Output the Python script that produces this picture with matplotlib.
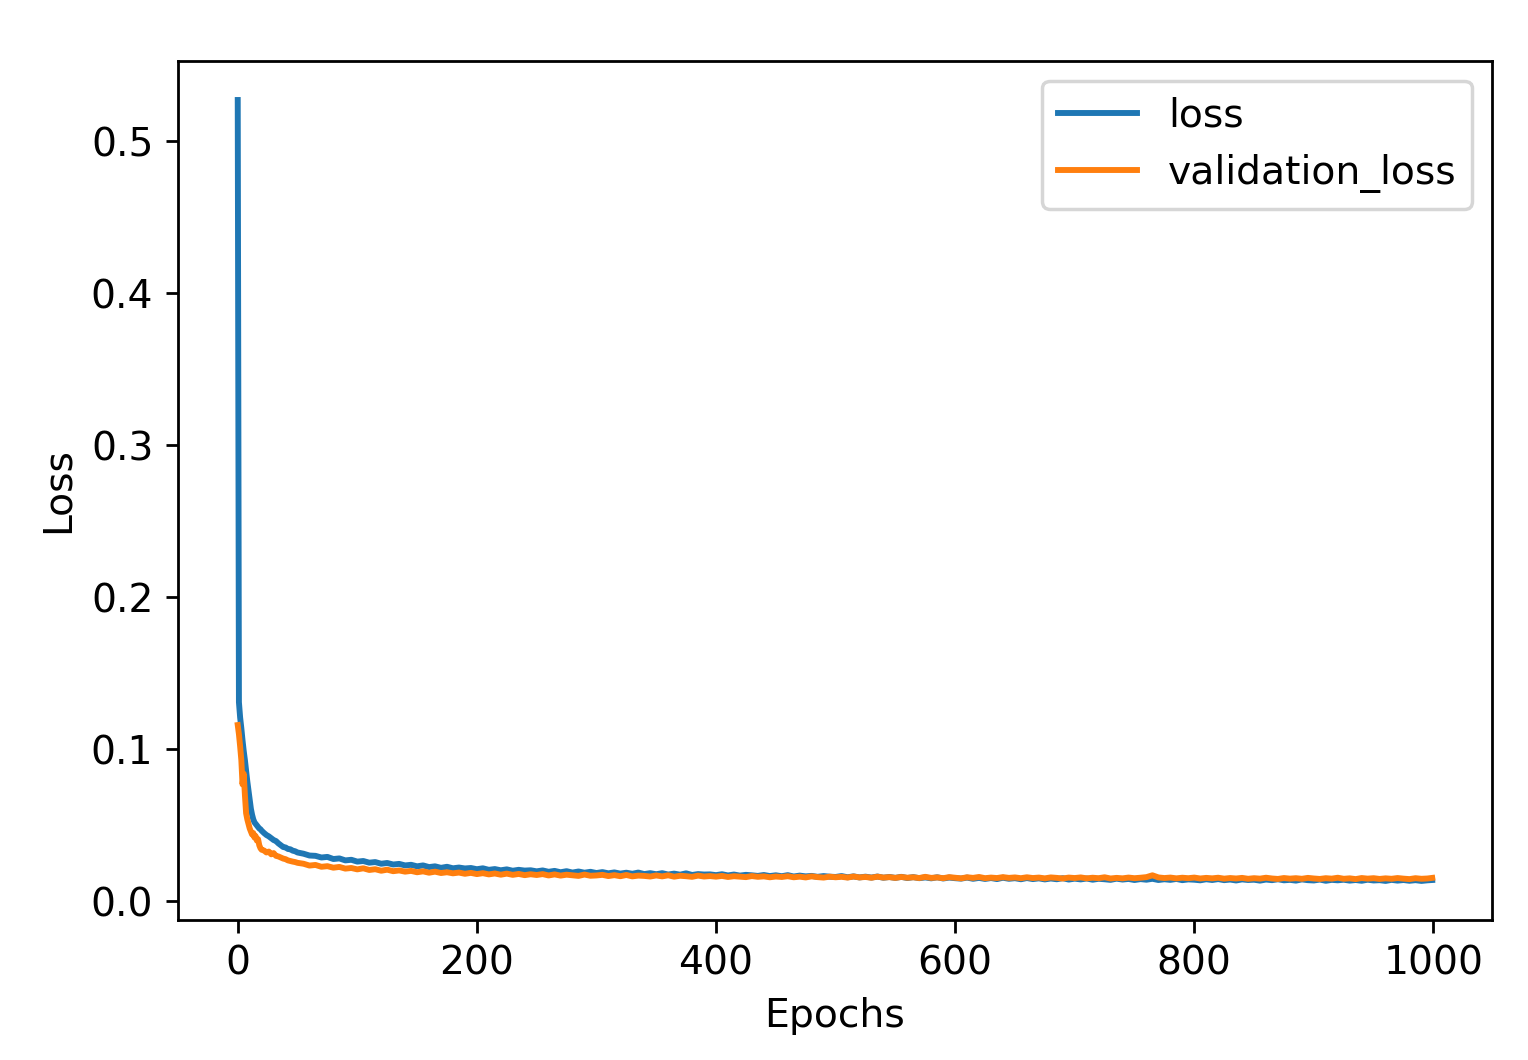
import matplotlib
matplotlib.use("Agg")
import matplotlib.pyplot as plt

plt.rcParams['font.size'] = 11.3
plt.rcParams['lines.linewidth'] = 1.7

# epochs 0..50 read one by one, then every 5 epochs up to the end
early_epochs = [0, 1, 2, 3, 4, 5, 6, 7, 8, 9, 10, 11, 12, 13, 14, 15, 16, 17, 18, 19,
                20, 22, 24, 26, 28, 30, 32, 34, 36, 38, 40, 42, 44, 46, 48, 50]
tail_epochs = list(range(55, 1000, 5)) + [999]
epochs = early_epochs + tail_epochs

loss_early = [0.527, 0.131, 0.121, 0.114, 0.106, 0.099, 0.093, 0.086, 0.079, 0.073,
              0.067, 0.061, 0.057, 0.054, 0.052, 0.051, 0.050, 0.049, 0.048, 0.0475,
              0.0465, 0.0450, 0.0437, 0.0428, 0.0416, 0.0404, 0.0397, 0.0382, 0.0370, 0.0358,
              0.0355, 0.0345, 0.0343, 0.0334, 0.0330, 0.0322]
loss_tail = [
    0.0314, 0.0302, 0.0300, 0.0289, 0.0293, 0.0279, 0.0283, 0.0270, 0.0274, 0.0262,
    0.0266, 0.0255, 0.0259, 0.0248, 0.0253, 0.0243, 0.0247, 0.0237, 0.0241, 0.0231,
    0.0237, 0.0226, 0.0231, 0.0221, 0.0228, 0.0218, 0.0223, 0.0217, 0.0220, 0.0212,
    0.0218, 0.0208, 0.0213, 0.0205, 0.0211, 0.0202, 0.0208, 0.0203, 0.0205, 0.0198,
    0.0204, 0.0195, 0.0201, 0.0192, 0.0199, 0.0190, 0.0197, 0.0189, 0.0195, 0.0187,
    0.0193, 0.0185, 0.0191, 0.0183, 0.0189, 0.0182, 0.0190, 0.0180, 0.0186, 0.0179,
    0.0186, 0.0177, 0.0183, 0.0176, 0.0185, 0.0174, 0.0180, 0.0177, 0.0178, 0.0173,
    0.0179, 0.0171, 0.0177, 0.0170, 0.0175, 0.0172, 0.0168, 0.0174, 0.0167, 0.0172,
    0.0166, 0.0173, 0.0164, 0.0170, 0.0165, 0.0168, 0.0162, 0.0167, 0.0163, 0.0161,
    0.0167, 0.0159, 0.0165, 0.0158, 0.0163, 0.0157, 0.0164, 0.0156, 0.0161, 0.0155,
    0.0162, 0.0154, 0.0160, 0.0153, 0.0158, 0.0152, 0.0159, 0.0151, 0.0157, 0.0153,
    0.0150, 0.0157, 0.0149, 0.0155, 0.0148, 0.0154, 0.0147, 0.0156, 0.0149, 0.0153,
    0.0146, 0.0154, 0.0147, 0.0152, 0.0145, 0.0151, 0.0146, 0.0153, 0.0144, 0.0150,
    0.0145, 0.0151, 0.0143, 0.0149, 0.0146, 0.0142, 0.0150, 0.0144, 0.0148, 0.0141,
    0.0147, 0.0143, 0.0149, 0.0141, 0.0146, 0.0142, 0.0148, 0.0140, 0.0145, 0.0143,
    0.0139, 0.0146, 0.0141, 0.0147, 0.0140, 0.0144, 0.0138, 0.0145, 0.0141, 0.0143,
    0.0137, 0.0144, 0.0140, 0.0146, 0.0139, 0.0142, 0.0137, 0.0145, 0.0140, 0.0138,
    0.0144, 0.0136, 0.0142, 0.0139, 0.0143, 0.0137, 0.0141, 0.0136, 0.0143, 0.0138,
    0.0140, 0.0135, 0.0142, 0.0137, 0.0141, 0.0136, 0.0140, 0.0135, 0.0139,
    0.0141]

val_early = [0.116, 0.110, 0.102, 0.093, 0.077, 0.084, 0.070, 0.058, 0.054, 0.051,
             0.048, 0.046, 0.044, 0.045, 0.042, 0.043, 0.040, 0.041, 0.037, 0.035,
             0.034, 0.0335, 0.0322, 0.0328, 0.0310, 0.0318, 0.0300, 0.0296, 0.0289, 0.0282,
             0.0278, 0.0270, 0.0266, 0.0262, 0.0259, 0.0254]
val_tail = [
    0.0248, 0.0236, 0.0240, 0.0228, 0.0232, 0.0222, 0.0227, 0.0216, 0.0220, 0.0211,
    0.0218, 0.0207, 0.0212, 0.0202, 0.0209, 0.0199, 0.0204, 0.0196, 0.0201, 0.0192,
    0.0198, 0.0189, 0.0196, 0.0187, 0.0192, 0.0185, 0.0190, 0.0182, 0.0188, 0.0180,
    0.0186, 0.0178, 0.0184, 0.0176, 0.0183, 0.0175, 0.0181, 0.0173, 0.0179, 0.0174,
    0.0180, 0.0171, 0.0178, 0.0170, 0.0176, 0.0172, 0.0168, 0.0177, 0.0169, 0.0171,
    0.0175, 0.0167, 0.0173, 0.0166, 0.0174, 0.0165, 0.0170, 0.0168, 0.0164, 0.0171,
    0.0165, 0.0172, 0.0163, 0.0169, 0.0166, 0.0162, 0.0170, 0.0164, 0.0167, 0.0163,
    0.0168, 0.0161, 0.0166, 0.0163, 0.0160, 0.0167, 0.0162, 0.0165, 0.0159, 0.0164,
    0.0161, 0.0166, 0.0159, 0.0163, 0.0158, 0.0165, 0.0160, 0.0157, 0.0163, 0.0159,
    0.0162, 0.0157, 0.0164, 0.0158, 0.0161, 0.0156, 0.0163, 0.0157, 0.0160, 0.0155,
    0.0161, 0.0156, 0.0159, 0.0154, 0.0162, 0.0155, 0.0158, 0.0153, 0.0160, 0.0156,
    0.0152, 0.0159, 0.0155, 0.0161, 0.0153, 0.0157, 0.0154, 0.0160, 0.0155, 0.0158,
    0.0153, 0.0159, 0.0154, 0.0157, 0.0152, 0.0158, 0.0155, 0.0151, 0.0157, 0.0154,
    0.0158, 0.0152, 0.0156, 0.0153, 0.0159, 0.0151, 0.0155, 0.0152, 0.0157, 0.0153,
    0.0156, 0.0160, 0.0172, 0.0158, 0.0154, 0.0157, 0.0152, 0.0156, 0.0153, 0.0157,
    0.0151, 0.0155, 0.0152, 0.0156, 0.0150, 0.0154, 0.0151, 0.0155, 0.0149, 0.0153,
    0.0150, 0.0156, 0.0151, 0.0148, 0.0154, 0.0150, 0.0153, 0.0149, 0.0155, 0.0151,
    0.0148, 0.0153, 0.0150, 0.0156, 0.0149, 0.0152, 0.0147, 0.0154, 0.0150, 0.0153,
    0.0148, 0.0152, 0.0149, 0.0154, 0.0150, 0.0147, 0.0153, 0.0149, 0.0151,
    0.0155]

loss = loss_early + loss_tail
validation_loss = val_early + val_tail

fig = plt.figure(figsize=(1528 / 250, 1060 / 250), dpi=250)
ax = fig.add_axes([0.1165, 0.1321, 0.8599, 0.8104])
ax.plot(epochs, loss, label='loss')
ax.plot(epochs, validation_loss, label='validation_loss')
ax.set_xlabel('Epochs')
ax.set_ylabel('Loss')
ax.tick_params(length=3.6)
ax.legend(loc='upper right')

fig.savefig('out.png', dpi=250)
